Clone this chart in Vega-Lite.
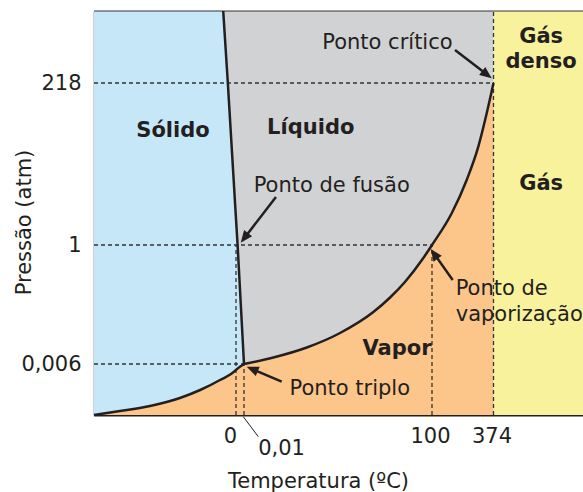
{
  "$schema": "https://vega.github.io/schema/vega-lite/v6.json",
  "width": 489,
  "height": 404,
  "autosize": {"type": "none"},
  "padding": {"left": 94, "top": 11, "right": 0, "bottom": 77},
  "background": "white",
  "config": {"view": {"stroke": null}, "font": "DejaVu Sans"},
  "datasets": {
    "regioes": [
      {"fase": "Sólido", "t1": -40, "t2": 0.01, "p1": 0, "p2": 400},
      {"fase": "Gás", "t1": 374, "t2": 500, "p1": 0, "p2": 400}
    ],
    "liquido": [
      {"p": 0.006, "t": 0.01, "t2": 374},
      {"p": 1, "t": 0.002, "t2": 374},
      {"p": 36, "t": 0, "t2": 374},
      {"p": 218, "t": -2.3, "t2": 374},
      {"p": 400, "t": -3.6, "t2": 374}
    ],
    "tracejadas": [
      {"t1": -40, "t2": 374, "p1": 218, "p2": 218},
      {"t1": -40, "t2": 100, "p1": 1, "p2": 1},
      {"t1": -40, "t2": 0.01, "p1": 0.006, "p2": 0.006},
      {"t1": 0, "t2": 0, "p1": 0, "p2": 1},
      {"t1": 0.01, "t2": 0.01, "p1": 0, "p2": 0.006},
      {"t1": 100, "t2": 100, "p1": 0, "p2": 1},
      {"t1": 374, "t2": 374, "p1": 0, "p2": 400}
    ],
    "borda": [
      {"t1": -40, "t2": 500, "p1": 400, "p2": 400}
    ],
    "fusao": [
      {"t": -3.6, "p": 400},
      {"t": -2.3, "p": 218},
      {"t": 0, "p": 36},
      {"t": 0.002, "p": 1},
      {"t": 0.01, "p": 0.006}
    ],
    "curvas": [
      {"curva": "sublimação", "t": -40, "p": 0},
      {"curva": "sublimação", "t": -32.7, "p": 0.00047},
      {"curva": "sublimação", "t": -24.2, "p": 0.00106},
      {"curva": "sublimação", "t": -15.8, "p": 0.002},
      {"curva": "sublimação", "t": -10.1, "p": 0.00294},
      {"curva": "sublimação", "t": -4.5, "p": 0.00412},
      {"curva": "sublimação", "t": -0.28, "p": 0.00518},
      {"curva": "sublimação", "t": 0, "p": 0.0053},
      {"curva": "sublimação", "t": 0.01, "p": 0.006},
      {"curva": "vaporização", "t": 0.01, "p": 0.006},
      {"curva": "vaporização", "t": 15.6, "p": 0.0603},
      {"curva": "vaporização", "t": 33.4, "p": 0.1438},
      {"curva": "vaporização", "t": 51.1, "p": 0.265},
      {"curva": "vaporização", "t": 68.8, "p": 0.44},
      {"curva": "vaporização", "t": 77.7, "p": 0.5615},
      {"curva": "vaporização", "t": 85.6, "p": 0.691},
      {"curva": "vaporização", "t": 95.2, "p": 0.887},
      {"curva": "vaporização", "t": 100, "p": 1},
      {"curva": "vaporização", "t": 187.8, "p": 43.5},
      {"curva": "vaporização", "t": 254.6, "p": 88.1},
      {"curva": "vaporização", "t": 306.3, "p": 132.7},
      {"curva": "vaporização", "t": 343.7, "p": 177.4},
      {"curva": "vaporização", "t": 374, "p": 218}
    ],
    "setas": [
      {"seta": "fusão", "t1": 17.0, "p1": 65.3, "t2": 0.22, "p2": 10.4},
      {"seta": "crítico", "t1": 202.5, "p1": 301.4, "t2": 344.8, "p2": 239.2},
      {"seta": "vaporização", "t1": 192.2, "p1": 0.708, "t2": 109.8, "p2": 0.926},
      {"seta": "triplo", "t1": 20.05, "p1": 0.00392, "t2": 4.37, "p2": 0.0054}
    ],
    "pontas": [
      {"seta": "fusão", "t": 0.0059, "p": 4.08},
      {"seta": "crítico", "t": 366, "p": 229.9},
      {"seta": "vaporização", "t": 99.3, "p": 0.967},
      {"seta": "triplo", "t": 1.45, "p": 0.00568}
    ],
    "guia": [
      {"t1": 0.0091, "p1": -0.0002, "t2": 7.6, "p2": -0.00255}
    ],
    "fases": [
      {"texto": "Sólido", "t": -17.75, "p": 146.1},
      {"texto": "Líquido", "t": 35.5, "p": 149.7},
      {"texto": "Gás", "t": 441, "p": 318.4},
      {"texto": "denso", "t": 441, "p": 255.2},
      {"texto": "Gás", "t": 441, "p": 74.7},
      {"texto": "Vapor", "t": 81.4, "p": 0.0812}
    ],
    "pontos_centro": [
      {"texto": "Ponto crítico", "t": 76.3, "p": 303.2},
      {"texto": "Ponto de fusão", "t": 46.66, "p": 72.4}
    ],
    "pontos_esquerda": [
      {"texto": "Ponto de", "t": 205.6, "p": 0.582},
      {"texto": "vaporização", "t": 205.6, "p": 0.368},
      {"texto": "Ponto triplo", "t": 24.2, "p": 0.00235}
    ]
  },
  "layer": [
    {
      "data": {"name": "regioes"},
      "mark": {"type": "rect"},
      "encoding": {
        "x": {
          "field": "t1", "type": "quantitative",
          "scale": {"domain": [-40, 0, 0.01, 100, 374, 500], "range": [0, 142, 150, 338, 399.5, 489], "zero": false, "nice": false},
          "axis": {
            "values": [0, 0.01, 100, 374],
            "labelExpr": "datum.value == 0.01 ? '0,01' : format(datum.value, 'd')",
            "title": "Temperatura (ºC)",
            "ticks": false, "tickSize": 0, "grid": false,
            "domainColor": "#231f20", "domainWidth": 2,
            "labelFont": "DejaVu Sans", "labelFontSize": 21, "labelColor": "#231f20",
            "labelBaseline": "top",
            "labelPadding": {"condition": {"test": "datum.value == 0.01", "value": 22}, "value": 10},
            "labelOffset": {"condition": [{"test": "datum.value == 0.01", "value": 37}, {"test": "datum.value == 0", "value": -6}], "value": -2},
            "labelOverlap": false, "labelFlush": false,
            "titleFont": "DejaVu Sans", "titleFontSize": 21, "titleFontWeight": "normal", "titleColor": "#231f20",
            "titleX": 224, "titleY": 72, "titleAlign": "center", "titleBaseline": "alphabetic"
          }
        },
        "x2": {"field": "t2"},
        "y": {
          "field": "p1", "type": "quantitative",
          "scale": {"domain": [0, 0.006, 1, 218, 400], "range": [404, 353, 234, 72, 0], "zero": false, "nice": false},
          "axis": {
            "values": [0.006, 1, 218],
            "labelExpr": "datum.value == 0.006 ? '0,006' : format(datum.value, 'd')",
            "title": "Pressão (atm)",
            "ticks": false, "tickSize": 0, "grid": false,
            "domainColor": "#4a4a4a", "domainWidth": 1.5,
            "labelFont": "DejaVu Sans", "labelFontSize": 21, "labelColor": "#231f20",
            "labelAlign": "right", "labelBaseline": "middle", "labelPadding": 13,
            "labelOverlap": false, "labelFlush": false,
            "titleFont": "DejaVu Sans", "titleFontSize": 21, "titleFontWeight": "normal", "titleColor": "#231f20",
            "titleAngle": 270, "titleX": -64, "titleY": 211, "titleAlign": "center", "titleBaseline": "alphabetic"
          }
        },
        "y2": {"field": "p2"},
        "color": {"field": "fase", "type": "nominal", "scale": {"domain": ["Sólido", "Gás"], "range": ["#c6e7f7", "#f8f29d"]}, "legend": null}
      }
    },
    {
      "data": {"name": "liquido"},
      "mark": {"type": "area", "orient": "horizontal", "color": "#d1d2d4", "opacity": 1},
      "encoding": {
        "y": {"field": "p", "type": "quantitative"},
        "x": {"field": "t", "type": "quantitative"},
        "x2": {"field": "t2"}
      }
    },
    {
      "data": {"name": "curvas"},
      "mark": {"type": "area", "orient": "vertical", "interpolate": "monotone", "color": "#fcc58a", "opacity": 1},
      "encoding": {
        "x": {"field": "t", "type": "quantitative"},
        "y": {"field": "p", "type": "quantitative"},
        "y2": {"datum": 0},
        "detail": {"field": "curva", "type": "nominal"}
      }
    },
    {
      "data": {"name": "tracejadas"},
      "mark": {"type": "rule", "color": "#333333", "strokeWidth": 1.3, "strokeDash": [4, 3]},
      "encoding": {
        "x": {"field": "t1", "type": "quantitative"},
        "x2": {"field": "t2"},
        "y": {"field": "p1", "type": "quantitative"},
        "y2": {"field": "p2"}
      }
    },
    {
      "data": {"name": "borda"},
      "mark": {"type": "rule", "color": "#333333", "strokeWidth": 1},
      "encoding": {
        "x": {"field": "t1", "type": "quantitative"},
        "x2": {"field": "t2"},
        "y": {"field": "p1", "type": "quantitative"},
        "y2": {"field": "p2"}
      }
    },
    {
      "data": {"name": "fusao"},
      "mark": {"type": "line", "color": "#231f20", "strokeWidth": 2.5},
      "encoding": {
        "x": {"field": "t", "type": "quantitative"},
        "y": {"field": "p", "type": "quantitative"}
      }
    },
    {
      "data": {"name": "curvas"},
      "mark": {"type": "line", "interpolate": "monotone", "color": "#231f20", "strokeWidth": 2.5},
      "encoding": {
        "x": {"field": "t", "type": "quantitative"},
        "y": {"field": "p", "type": "quantitative"},
        "detail": {"field": "curva", "type": "nominal"}
      }
    },
    {
      "data": {"name": "setas"},
      "mark": {"type": "rule", "color": "#231f20", "strokeWidth": 2.5},
      "encoding": {
        "x": {"field": "t1", "type": "quantitative"},
        "x2": {"field": "t2"},
        "y": {"field": "p1", "type": "quantitative"},
        "y2": {"field": "p2"}
      }
    },
    {
      "data": {"name": "pontas"},
      "transform": [{"filter": "datum.seta == 'fusão'"}],
      "mark": {"type": "point", "shape": "M0,0L0.42,1L-0.42,1Z", "size": 576, "filled": true, "color": "#231f20", "opacity": 1, "strokeWidth": 0, "angle": 217.7},
      "encoding": {"x": {"field": "t", "type": "quantitative"}, "y": {"field": "p", "type": "quantitative"}}
    },
    {
      "data": {"name": "pontas"},
      "transform": [{"filter": "datum.seta == 'crítico'"}],
      "mark": {"type": "point", "shape": "M0,0L0.42,1L-0.42,1Z", "size": 576, "filled": true, "color": "#231f20", "opacity": 1, "strokeWidth": 0, "angle": 127.6},
      "encoding": {"x": {"field": "t", "type": "quantitative"}, "y": {"field": "p", "type": "quantitative"}}
    },
    {
      "data": {"name": "pontas"},
      "transform": [{"filter": "datum.seta == 'vaporização'"}],
      "mark": {"type": "point", "shape": "M0,0L0.42,1L-0.42,1Z", "size": 576, "filled": true, "color": "#231f20", "opacity": 1, "strokeWidth": 0, "angle": 324.6},
      "encoding": {"x": {"field": "t", "type": "quantitative"}, "y": {"field": "p", "type": "quantitative"}}
    },
    {
      "data": {"name": "pontas"},
      "transform": [{"filter": "datum.seta == 'triplo'"}],
      "mark": {"type": "point", "shape": "M0,0L0.42,1L-0.42,1Z", "size": 576, "filled": true, "color": "#231f20", "opacity": 1, "strokeWidth": 0, "angle": 293.2},
      "encoding": {"x": {"field": "t", "type": "quantitative"}, "y": {"field": "p", "type": "quantitative"}}
    },
    {
      "data": {"name": "guia"},
      "mark": {"type": "rule", "color": "#231f20", "strokeWidth": 1},
      "encoding": {
        "x": {"field": "t1", "type": "quantitative"},
        "x2": {"field": "t2"},
        "y": {"field": "p1", "type": "quantitative"},
        "y2": {"field": "p2"}
      }
    },
    {
      "data": {"name": "fases"},
      "mark": {"type": "text", "font": "DejaVu Sans", "fontWeight": "bold", "fontSize": 21, "color": "#231f20", "align": "center", "baseline": "alphabetic"},
      "encoding": {
        "x": {"field": "t", "type": "quantitative"},
        "y": {"field": "p", "type": "quantitative"},
        "text": {"field": "texto"}
      }
    },
    {
      "data": {"name": "pontos_centro"},
      "mark": {"type": "text", "font": "DejaVu Sans", "fontSize": 21, "color": "#231f20", "align": "center", "baseline": "alphabetic"},
      "encoding": {
        "x": {"field": "t", "type": "quantitative"},
        "y": {"field": "p", "type": "quantitative"},
        "text": {"field": "texto"}
      }
    },
    {
      "data": {"name": "pontos_esquerda"},
      "mark": {"type": "text", "font": "DejaVu Sans", "fontSize": 21, "color": "#231f20", "align": "left", "baseline": "alphabetic"},
      "encoding": {
        "x": {"field": "t", "type": "quantitative"},
        "y": {"field": "p", "type": "quantitative"},
        "text": {"field": "texto"}
      }
    }
  ]
}
